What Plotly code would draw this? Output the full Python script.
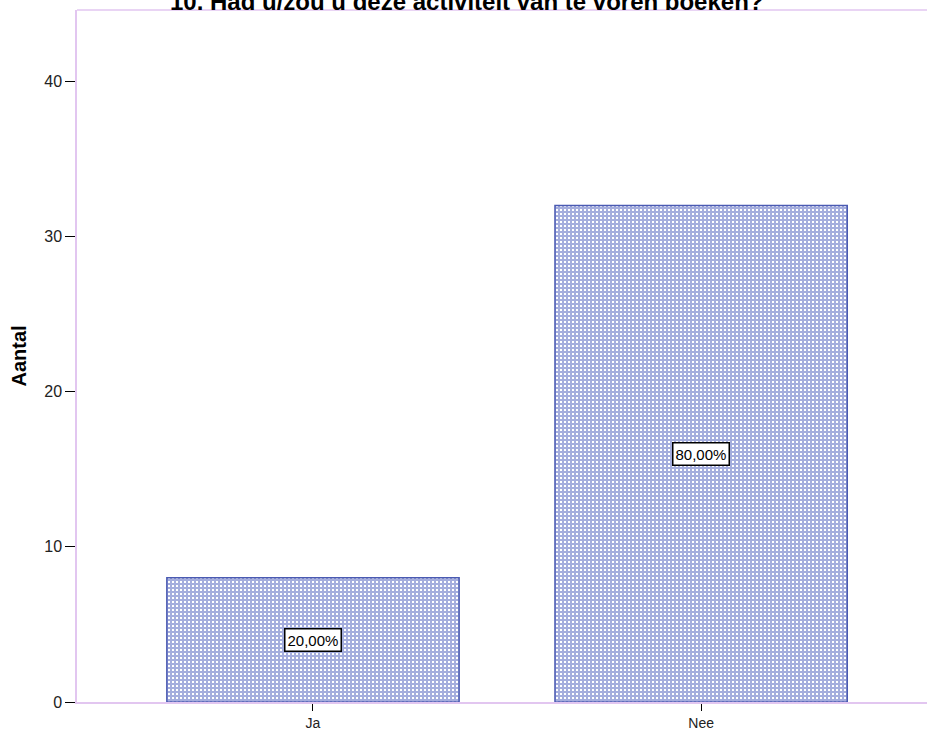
import plotly.graph_objects as go

categories = ["Ja", "Nee"]
counts = [8, 32]
percent_labels = ["20,00%", "80,00%"]
y_ticks = [0, 10, 20, 30, 40]
title_text = "10. Had u/zou u deze activiteit van te voren boeken?"
y_title = "Aantal"

x_pos = list(range(len(categories)))

fig = go.Figure()
fig.add_trace(go.Bar(
    x=x_pos, y=counts, width=0.753,
    marker=dict(
        color="white",
        line=dict(color="#4a5ab2", width=1.5),
        pattern=dict(shape="+", fgcolor="#4a5cbc", bgcolor="white", size=4, solidity=0.75),
    ),
    showlegend=False, hoverinfo="skip",
))

for xi, c, lab in zip(x_pos, counts, percent_labels):
    fig.add_annotation(
        x=xi, y=c / 2, text=lab, showarrow=False,
        font=dict(family="Liberation Sans, Arial", size=15, color="black"),
        bgcolor="white", bordercolor="black", borderwidth=1.5, borderpad=2,
    )

fig.add_annotation(
    xref="paper", yref="paper", x=(466 - 77) / (927 - 77), y=1, yshift=9,
    xanchor="center", yanchor="middle",
    text="<b>" + title_text + "</b>", showarrow=False,
    font=dict(family="Liberation Sans, Arial", size=24, color="black"),
)

# top frame line (the right side of the frame lies outside the picture)
fig.add_shape(type="line", xref="paper", yref="paper", x0=0, x1=1, y0=1, y1=1,
              line=dict(color="#e2c6f0", width=1.5))

fig.update_layout(
    width=927, height=731,
    margin=dict(l=77, r=0, t=10, b=29),
    plot_bgcolor="white", paper_bgcolor="white",
    font=dict(family="Liberation Sans, Arial", size=15, color="#222222"),
    xaxis=dict(
        range=[-0.608, 1.582], tickvals=x_pos, ticktext=categories,
        showline=True, linecolor="#e2c6f0", linewidth=1.5,
        ticks="outside", ticklen=7, tickcolor="black", showgrid=False, zeroline=False,
        tickfont=dict(size=14, color="#222222"),
    ),
    yaxis=dict(
        range=[0, 44.6], tickvals=y_ticks,
        showline=True, linecolor="#e2c6f0", linewidth=1.5,
        ticks="outside", ticklen=10, tickcolor="black", showgrid=False, zeroline=False,
        tickfont=dict(size=16, color="#222222"),
        title=dict(text="<b>" + y_title + "</b>", font=dict(size=20, color="black"), standoff=12),
    ),
)

fig.write_html("out.html", config={"displayModeBar": False},
               post_script="document.body.style.margin='0px';")
